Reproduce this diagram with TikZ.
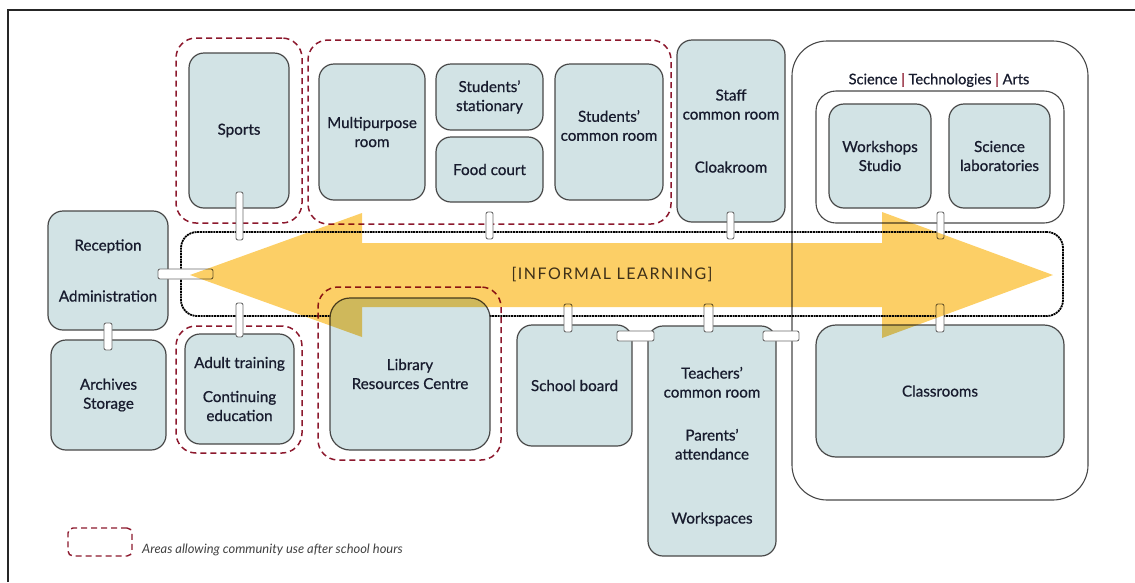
\documentclass[tikz,border=0pt]{standalone}
\usepackage{fontspec}
\setmainfont{Lato}
\newfontfamily\roomf[FakeBold=0.7]{Lato}
\usetikzlibrary{calc}
\definecolor{boxfill}{RGB}{210,227,229}
\definecolor{boxline}{RGB}{72,72,72}
\definecolor{grpred}{RGB}{140,24,45}
\definecolor{arrowy}{RGB}{252,207,102}
\definecolor{txt}{RGB}{24,28,46}
\definecolor{bandtxt}{RGB}{62,48,24}
\newcommand\boxat[7][]{\node[#1, minimum width={(#5)-(#3)}, minimum height={(#6)-(#4)}] (#2) at ({((#3)+(#5))/2},{((#4)+(#6))/2}) {#7};}
\begin{document}
\begin{tikzpicture}[x=1pt,y=-1pt,
  room/.style={draw=boxline, line width=1.2pt, fill=boxfill, rounded corners=15pt, align=center, text=txt, inner sep=0pt, font=\roomf\fontsize{15.2}{19}\selectfont},
  grp/.style={draw=grpred, line width=1.5pt, dash pattern=on 6pt off 4pt, rounded corners=20pt, inner sep=0pt},
  plain/.style={draw=boxline, line width=1.1pt, inner sep=0pt},
  door/.style={draw=boxline!80, line width=0.9pt, fill=white, rounded corners=2pt, inner sep=0pt},
  lbl/.style={align=center, text=txt, inner sep=0pt, font=\roomf\fontsize{15.2}{19}\selectfont},
  band/.style={draw=black, line width=1.8pt, dash pattern=on 2pt off 0.7pt, rounded corners=16pt, inner sep=0pt}
]
\useasboundingbox (0,0) rectangle (1135,582);
% frame
\draw[line width=1.8pt, black!85] (8,582) -- (8,10) -- (1135,10);

% big right enclosure
\boxat[plain, rounded corners=35pt]{outer}{792}{41}{1088}{500}{}
\node[lbl, font=\roomf\fontsize{14.6}{16}\selectfont] (sta) at (939,80) {Science {\color{grpred}|} Technologies {\color{grpred}|} Arts};
\boxat[plain, rounded corners=20pt, fill=white]{inner}{816}{91}{1064}{223}{}

% informal learning band
\boxat[band]{band}{181}{232}{1063}{316}{}

% dashed community groups
\boxat[grp]{gsports}{176}{38}{302}{223}{}
\boxat[grp]{gtop}{308}{40}{671}{224}{}
\boxat[grp]{gadult}{176}{326}{302}{453}{}
\boxat[grp]{glib}{318}{287}{501}{460}{}

% rooms
\boxat[room]{sports}{189}{53}{289}{208}{Sports}
\boxat[room]{multi}{319}{64}{425}{200}{Multipurpose\\room}
\boxat[room]{stat}{436}{64}{543}{130}{Students’\\stationary}
\boxat[room]{food}{436}{137}{543}{202}{Food court}
\boxat[room]{scommon}{555}{64}{663}{200}{}
\node[lbl] (scl) at (609,125.5) {Students’\\common room};
\boxat[room]{staff}{677}{40}{785}{222}{Staff\\common room\\[34pt]Cloakroom}
\boxat[room]{work}{829}{104}{931}{208}{Workshops\\Studio}
\boxat[room]{lab}{949}{104}{1050}{208}{Science\\laboratories}
\boxat[room]{recep}{48}{211}{168}{330}{Reception\\[32pt]Administration}
\boxat[room]{arch}{51}{340}{166}{450}{Archives\\Storage}
\boxat[room]{adult}{185}{334}{294}{444}{Adult training\\[15pt]Continuing\\education}
\boxat[room, rounded corners=20pt]{lib}{330}{298}{490}{450}{Library\\Resources Centre}
\boxat[room]{board}{517}{325}{632}{446}{School board}
\boxat[room]{teach}{648}{326}{776}{556}{}
\node[lbl] (tl) at (712,446.5) {Teachers’\\common room\\[24pt]Parents’\\attendance\\[45pt]Workspaces};
\boxat[room, rounded corners=20pt]{class}{816}{325}{1064}{457}{Classrooms}

% doors
\boxat[door]{d1}{236}{192}{243}{240}{}
\boxat[door]{d2}{486}{212}{493}{239}{}
\boxat[door]{d3}{727}{212}{734}{239}{}
\boxat[door]{d4}{937}{212}{944}{239}{}
\boxat[door]{d5}{158}{269}{213}{279}{}
\boxat[door]{d6}{104}{323}{112}{350}{}
\boxat[door]{d7}{236}{303}{243}{337}{}
\boxat[door]{d8}{564}{304}{572}{332}{}
\boxat[door]{d9}{704}{304}{713}{332}{}
\boxat[door]{d10}{617}{331}{654}{341}{}
\boxat[door]{d11}{763}{331}{799}{341}{}
\boxat[door]{d12}{936}{304}{944}{332}{}

% double arrow
\fill[arrowy, blend mode=multiply] (190,275) -- (362,213) -- (362,243) -- (882,243) -- (882,212) -- (1053,275) -- (882,338) -- (882,307) -- (362,307) -- (362,337) -- cycle;
\node[text=bandtxt, font=\fontsize{16}{18}\selectfont\addfontfeatures{LetterSpace=9.5}] (il) at (612,275) {[INFORMAL LEARNING]};

% legend
\boxat[grp, rounded corners=5pt, line width=1.4pt]{leg}{68}{528}{132}{556}{}
\node[anchor=west, text=black!75, font=\fontsize{12.9}{15}\selectfont\itshape, inner sep=0pt] (legt) at (142,550) {Areas allowing community use after school hours};
\end{tikzpicture}
\end{document}
